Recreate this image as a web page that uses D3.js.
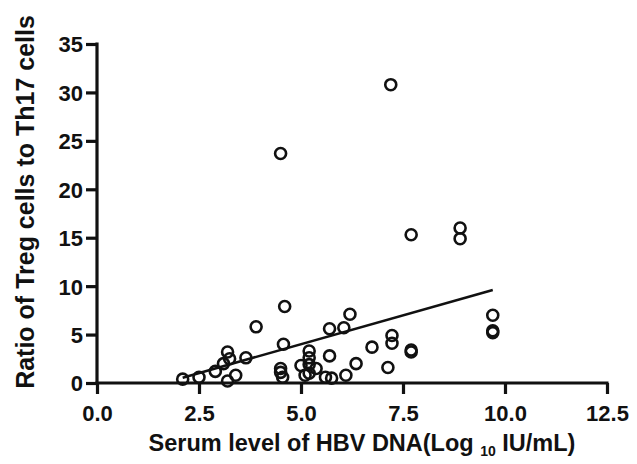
<!DOCTYPE html>
<html><head><meta charset="utf-8">
<script src="https://cdn.jsdelivr.net/npm/d3@7"></script>
<style>body{margin:0;background:#fff}svg{display:block}text{font-family:"Liberation Sans",Arial,sans-serif;font-weight:bold;fill:#111}</style>
</head><body><svg id="c" width="637" height="464"></svg>
<script>
const xVals = [2.1,2.5,2.9,3.1,3.2,3.25,3.2,3.4,3.65,3.9,4.5,4.6,4.57,4.5,4.5,4.55,5.0,5.1,5.2,5.37,5.2,5.2,5.2,5.6,5.75,5.7,5.7,6.05,6.2,6.1,6.35,6.74,7.13,7.2,7.23,7.23,7.7,7.7,7.7,8.9,8.9,9.7,9.7,9.7];
const yVals = [0.4,0.6,1.2,2.0,3.2,2.5,0.2,0.8,2.6,5.8,23.7,7.9,4.0,1.5,1.1,0.6,1.8,0.8,1.0,1.5,3.3,2.6,1.9,0.6,0.5,2.8,5.6,5.7,7.1,0.8,2.0,3.7,1.6,30.8,4.9,4.1,15.3,3.4,3.2,16.0,14.9,7.0,5.4,5.2];
const fitX = [2.1, 9.7];
const fitY = [0.55, 9.6];
const xTicks = [0,2.5,5,7.5,10,12.5];
const yTicks = [0,5,10,15,20,25,30,35];

const svg = d3.select("#c");
const x = d3.scaleLinear().domain([0,12.5]).range([97,607]);
const y = d3.scaleLinear().domain([0,35]).range([383,44]);

const xa = svg.append("g").attr("transform","translate(0,383)")
  .call(d3.axisBottom(x).tickValues(xTicks).tickFormat(d3.format(".1f")).tickSize(11).tickSizeOuter(0));
const ya = svg.append("g").attr("transform","translate(97,0)")
  .call(d3.axisLeft(y).tickValues(yTicks).tickFormat(d3.format("d")).tickSize(11).tickSizeOuter(0));
[xa,ya].forEach(a=>{
  a.selectAll("path,line").attr("stroke","#111").attr("stroke-width",3.2);
  a.selectAll("text").style("font-size","22px").attr("fill","#111");
});
xa.select(".domain").attr("d","M95.5,0H608.5");
ya.select(".domain").attr("d","M0,42.5V384.5");
xa.selectAll("text").attr("y",0).attr("dy",0).attr("transform","translate(0,38)");
ya.selectAll("text").attr("x",-14).attr("dy","0.36em");

svg.append("line")
  .attr("x1",x(fitX[0])).attr("y1",y(fitY[0]))
  .attr("x2",x(fitX[1])).attr("y2",y(fitY[1]))
  .attr("stroke","#111").attr("stroke-width",2.6);

svg.append("g").selectAll("circle").data(xVals.map((v,i)=>[v,yVals[i]])).join("circle")
  .attr("cx",d=>x(d[0])).attr("cy",d=>y(d[1])).attr("r",5.5)
  .attr("fill","none").attr("stroke","#111").attr("stroke-width",2.6);

svg.append("text").attr("transform","translate(34,202) rotate(-90)")
  .attr("text-anchor","middle").style("font-size","25px")
  .text("Ratio of Treg cells to Th17 cells");

const xt = svg.append("text").attr("x",362).attr("y",451).attr("text-anchor","middle").style("font-size","23.5px");
xt.append("tspan").text("Serum level of HBV DNA(Log ");
xt.append("tspan").attr("dy",5).style("font-size","14px").text("10");
xt.append("tspan").attr("dy",-5).text(" IU/mL)");
</script></body></html>
